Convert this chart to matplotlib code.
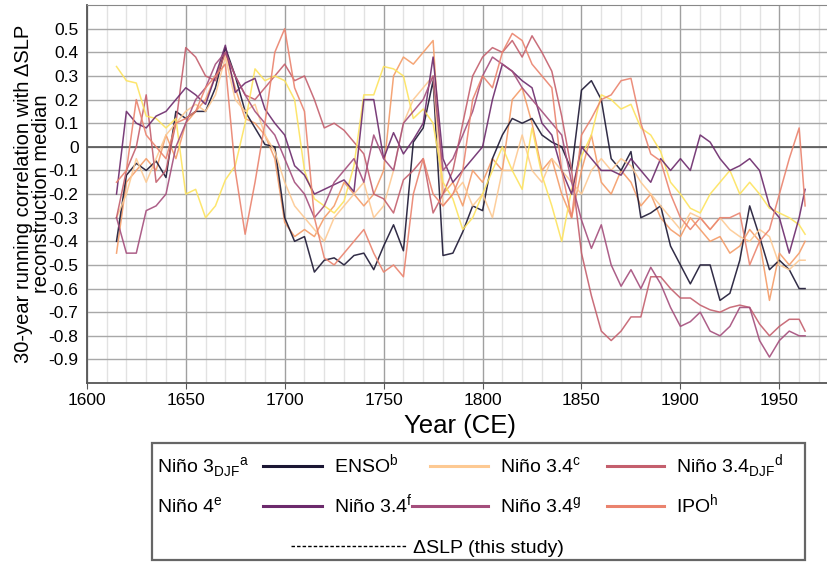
import matplotlib
matplotlib.use("Agg")
import matplotlib.pyplot as plt
import numpy as np
from matplotlib.lines import Line2D
from matplotlib.patches import Rectangle

plt.rcParams['font.family'] = ['Liberation Sans', 'DejaVu Sans']
plt.rcParams['mathtext.fontset'] = 'custom'
plt.rcParams['mathtext.rm'] = 'Liberation Sans'

# years of the running window centres (every 5 years, plus the last one)
years = list(range(1615, 1961, 5)) + [1963]

nino3_djf = [-0.45, -0.15, -0.10, -0.05, -0.10, 0.05, -0.05, 0.10, 0.15, 0.20,
             0.30, 0.40, 0.25, 0.12, 0.10, 0.05, -0.05, -0.32, -0.38, -0.35,
             -0.38, -0.30, -0.25, -0.15, -0.20, -0.25, -0.20, -0.10, 0.30, 0.38,
             0.35, 0.40, 0.45, -0.20, -0.15, -0.25, -0.10, -0.15, -0.05, -0.10,
             0.20, 0.25, 0.10, -0.10, -0.05, -0.20, -0.30, -0.10, 0.05, -0.15,
             -0.20, -0.10, -0.15, -0.25, -0.20, -0.30, -0.35, -0.38, -0.30, -0.35,
             -0.40, -0.38, -0.45, -0.42, -0.35, -0.40, -0.65, -0.45, -0.50, -0.45,
             -0.40]
enso = [-0.40, -0.12, -0.07, -0.10, -0.06, -0.13, 0.15, 0.12, 0.15, 0.15,
        0.25, 0.42, 0.30, 0.15, 0.08, 0.01, 0.00, -0.30, -0.40, -0.38,
        -0.53, -0.48, -0.47, -0.50, -0.46, -0.45, -0.52, -0.42, -0.33, -0.44,
        0.02, 0.08, 0.28, -0.46, -0.45, -0.36, -0.25, -0.27, -0.05, 0.05,
        0.12, 0.10, 0.12, 0.05, 0.02, 0.00, -0.10, 0.24, 0.28, 0.20,
        -0.05, -0.10, -0.02, -0.30, -0.28, -0.25, -0.42, -0.50, -0.58, -0.50,
        -0.50, -0.65, -0.62, -0.48, -0.25, -0.38, -0.52, -0.48, -0.52, -0.60,
        -0.60]
nino34_c = [-0.30, -0.20, -0.05, -0.15, -0.05, 0.05, 0.10, 0.15, 0.18, 0.15,
            0.22, 0.38, 0.20, 0.15, 0.18, 0.05, -0.02, -0.15, -0.25, -0.30,
            -0.35, -0.40, -0.30, -0.25, -0.20, -0.15, -0.30, -0.25, -0.10, 0.10,
            0.20, 0.25, 0.30, -0.25, -0.20, -0.15, -0.25, -0.20, -0.30, -0.10,
            -0.10, 0.05, -0.10, -0.15, -0.05, -0.10, -0.15, -0.20, -0.10, -0.05,
            -0.10, -0.05, -0.08, -0.15, -0.20, -0.25, -0.30, -0.35, -0.28, -0.30,
            -0.35, -0.30, -0.35, -0.38, -0.40, -0.35, -0.38, -0.50, -0.52, -0.48,
            -0.48]
nino34_djf = [-0.30, -0.10, 0.00, 0.22, -0.15, -0.10, 0.10, 0.42, 0.38, 0.30,
              0.28, 0.40, 0.30, 0.22, 0.20, 0.25, 0.30, 0.35, 0.28, 0.30,
              0.20, 0.08, 0.10, 0.07, 0.02, -0.03, -0.20, -0.22, -0.28, -0.14,
              -0.10, -0.05, -0.28, -0.20, -0.10, 0.10, 0.30, 0.38, 0.42, 0.40,
              0.45, 0.38, 0.47, 0.40, 0.32, 0.13, -0.10, -0.45, -0.63, -0.78,
              -0.82, -0.78, -0.72, -0.72, -0.55, -0.55, -0.60, -0.64, -0.64, -0.67,
              -0.69, -0.70, -0.68, -0.67, -0.68, -0.75, -0.80, -0.76, -0.73, -0.73,
              -0.78]
nino4 = [0.34, 0.28, 0.27, 0.13, 0.12, 0.08, 0.12, -0.20, -0.18, -0.30,
         -0.25, -0.14, -0.08, 0.10, 0.33, 0.28, 0.30, 0.28, 0.20, -0.10,
         -0.22, -0.25, -0.28, -0.23, -0.08, 0.22, 0.22, 0.34, 0.33, 0.30,
         0.12, 0.16, 0.10, -0.15, -0.22, -0.35, -0.30, -0.20, -0.10, 0.00,
         -0.10, -0.18, 0.08, -0.12, -0.25, -0.40, -0.18, -0.04, 0.05, 0.22,
         0.20, 0.16, 0.18, 0.08, 0.05, -0.02, -0.15, -0.20, -0.26, -0.28,
         -0.20, -0.15, -0.10, -0.20, -0.15, -0.20, -0.26, -0.28, -0.30, -0.33,
         -0.37]
nino34_f = [-0.20, 0.15, 0.10, 0.08, 0.13, 0.15, 0.20, 0.25, 0.22, 0.18,
            0.30, 0.43, 0.23, 0.27, 0.29, 0.16, 0.10, 0.05, -0.08, -0.12,
            -0.20, -0.18, -0.16, -0.14, -0.19, 0.20, 0.20, -0.05, 0.06, -0.03,
            0.03, 0.10, 0.38, -0.05, -0.15, -0.10, -0.05, 0.00, 0.20, 0.35,
            0.32, 0.28, 0.25, 0.10, 0.05, -0.10, -0.20, 0.00, -0.05, -0.10,
            -0.10, -0.12, -0.05, -0.10, -0.15, -0.05, -0.10, -0.05, -0.10, 0.05,
            0.02, -0.05, -0.10, -0.08, -0.05, -0.10, -0.25, -0.30, -0.45, -0.30,
            -0.18]
nino34_g = [-0.30, -0.45, -0.45, -0.27, -0.25, -0.20, 0.00, 0.10, 0.20, 0.25,
            0.35, 0.40, 0.30, 0.22, 0.15, 0.10, 0.05, -0.05, -0.15, -0.20,
            -0.30, -0.25, -0.15, -0.10, -0.05, -0.15, 0.05, -0.05, -0.10, 0.10,
            0.15, 0.20, 0.30, -0.10, -0.05, 0.05, 0.15, 0.30, 0.38, 0.35,
            0.32, 0.25, 0.20, 0.15, 0.10, 0.05, -0.15, -0.31, -0.43, -0.33,
            -0.50, -0.59, -0.52, -0.60, -0.51, -0.58, -0.68, -0.76, -0.74, -0.70,
            -0.78, -0.80, -0.76, -0.68, -0.68, -0.82, -0.89, -0.82, -0.78, -0.80,
            -0.80]
ipo = [-0.15, -0.10, 0.20, 0.05, 0.00, -0.05, 0.10, 0.12, 0.15, 0.25,
       0.30, 0.35, -0.10, -0.37, -0.15, 0.10, 0.40, 0.50, 0.25, 0.15,
       -0.30, -0.47, -0.50, -0.45, -0.40, -0.35, -0.45, -0.53, -0.50, -0.55,
       -0.20, -0.05, -0.20, -0.25, -0.20, -0.10, 0.20, 0.30, 0.25, 0.40,
       0.48, 0.45, 0.35, 0.30, 0.25, -0.10, -0.30, 0.05, 0.12, 0.20,
       0.22, 0.28, 0.29, 0.10, -0.03, -0.06, -0.20, -0.30, -0.35, -0.30,
       -0.35, -0.30, -0.30, -0.28, -0.50, -0.40, -0.35, -0.20, -0.05, 0.08,
       -0.25]

labels = [r'Niño 3$_{\mathrm{DJF}}$$^{\mathrm{a}}$', r'ENSO$^{\mathrm{b}}$',
          r'Niño 3.4$^{\mathrm{c}}$', r'Niño 3.4$_{\mathrm{DJF}}$$^{\mathrm{d}}$',
          r'Niño 4$^{\mathrm{e}}$', r'Niño 3.4$^{\mathrm{f}}$',
          r'Niño 3.4$^{\mathrm{g}}$', r'IPO$^{\mathrm{h}}$']
series = [nino3_djf, enso, nino34_c, nino34_djf, nino4, nino34_f, nino34_g, ipo]
colors = ['#f49c68', '#1b1633', '#fdc992', '#c45f6d',
          '#fde35e', '#6c2a6c', '#a44e7c', '#ea836e']

W, H = 827, 565
fig = plt.figure(figsize=(W / 100, H / 100), dpi=100)
ax = fig.add_axes([0.105, 0.322, 0.902, 0.669])

for s, c in zip(series, colors):
    ax.plot(years, s, color=c, lw=1.1, alpha=0.9)

ax.set_xlim(1600, 1977)
ax.set_ylim(-1.0, 0.6)
ax.set_xticks(np.arange(1600, 1951, 50))
ax.set_xticks(np.arange(1600, 1976, 10), minor=True)
yt = np.round(np.arange(-0.9, 0.51, 0.1), 1)
ax.set_yticks(yt)
ax.set_yticklabels(['0' if v == 0 else f'{v:.1f}' for v in yt])
ax.tick_params(axis='both', labelsize=12.5, color='#555555', length=4)
ax.tick_params(axis='x', which='minor', length=0)
ax.tick_params(axis='y', length=0, pad=6)

ax.grid(axis='y', color='#a8a8a8', lw=1.0, zorder=0)
ax.grid(axis='x', which='major', color='#a0a0a0', lw=1.0, zorder=0)
ax.grid(axis='x', which='minor', color='#e2e2e2', lw=1.0, zorder=0)
ax.axhline(0, color='#555555', lw=1.2, zorder=1)
ax.set_axisbelow(True)

for side in ['left', 'bottom']:
    ax.spines[side].set_color('#555555')
    ax.spines[side].set_linewidth(1.3)
ax.spines['top'].set_color('#888888')
ax.spines['right'].set_visible(False)

ax.set_ylabel('30-year running correlation with ΔSLP\nreconstruction median',
              fontsize=14.5, linespacing=0.95, labelpad=-2)
ax.set_xlabel('Year (CE)', fontsize=18.5, labelpad=4)

# legend drawn by hand: label columns, row baselines in pixels
def fx(px):
    return px / W

def fy(py):
    return 1 - py / H

label_x = [157, 334, 500, 676]
row_base = [473, 513]
grid_pos = [(0, 0), (0, 1), (0, 2), (0, 3), (1, 0), (1, 1), (1, 2), (1, 3)]
handle_start = {(0, 1): 263, (0, 2): 430, (0, 3): 607,
                (1, 1): 263, (1, 2): 412, (1, 3): 607}
for lab, c, (r, k) in zip(labels, colors, grid_pos):
    fig.text(fx(label_x[k]), fy(row_base[r]), lab, fontsize=14, va='baseline')
    if k > 0:
        x0 = handle_start[(r, k)]
        x1 = label_x[k] - 12
        fig.add_artist(Line2D([fx(x0), fx(x1)], [fy(row_base[r] - 7)] * 2,
                              color=c, lw=2.2, transform=fig.transFigure))
fig.add_artist(Line2D([fx(291), fx(406)], [fy(546)] * 2, color='black', lw=1,
                      ls=(0, (2.5, 1.5)), transform=fig.transFigure))
fig.text(fx(413), fy(553), 'ΔSLP (this study)', fontsize=14, va='baseline')
fig.add_artist(Rectangle((fx(152), fy(560)), fx(805 - 152), 1 - fy(560 - 443) ,
                         transform=fig.transFigure, fill=False,
                         edgecolor='#666666', lw=1.6))

fig.savefig('out.png', dpi=100)
